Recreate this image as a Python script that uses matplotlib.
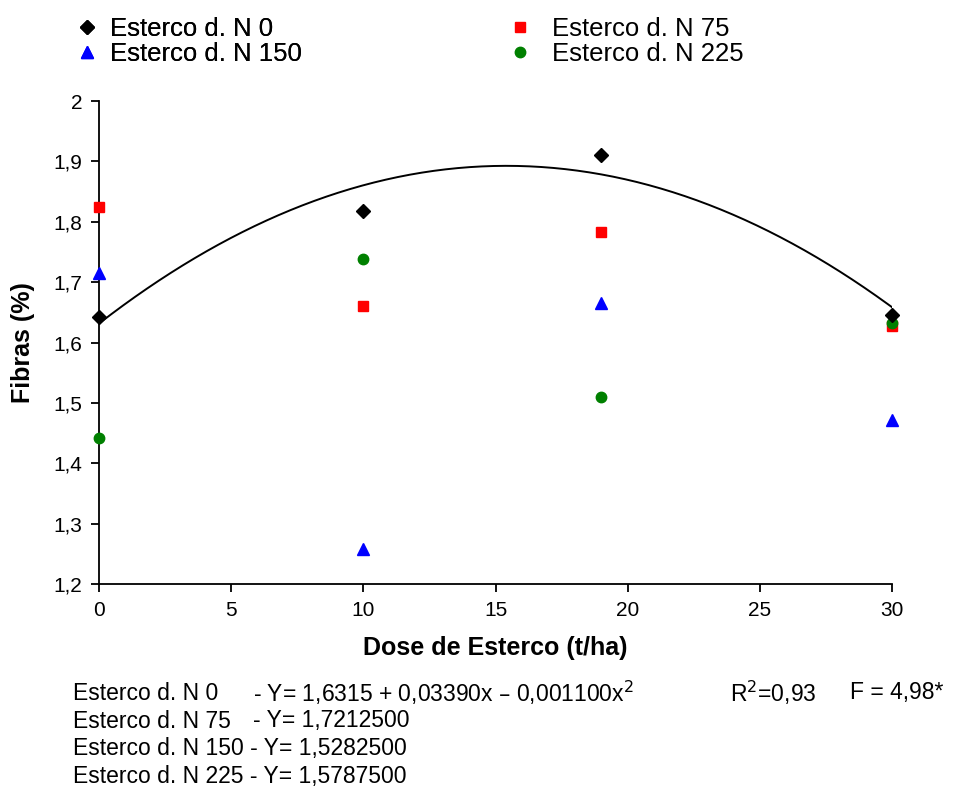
import matplotlib.pyplot as plt
import numpy as np

plt.rcParams['font.family'] = ['Liberation Sans', 'DejaVu Sans']

# doses de esterco (t/ha)
doses = [0, 10, 19, 30]

# fibras (%) para cada dose de N
n0 = [1.643, 1.818, 1.910, 1.645]
n75 = [1.824, 1.660, 1.783, 1.627]
n150 = [1.716, 1.258, 1.665, 1.471]
n225 = [1.442, 1.738, 1.510, 1.633]

# ajuste quadratico do N 0
b0, b1, b2 = 1.6315, 0.03390, -0.001100

yticks = [1.2, 1.3, 1.4, 1.5, 1.6, 1.7, 1.8, 1.9, 2.0]
ytick_labels = ['1,2', '1,3', '1,4', '1,5', '1,6', '1,7', '1,8', '1,9', '2']
xticks = [0, 5, 10, 15, 20, 25, 30]

fig = plt.figure(figsize=(9.56, 7.87), dpi=100)
ax = fig.add_axes([0.1036, 0.2579, 0.8295, 0.6137])

p0, = ax.plot(doses, n0, 'D', color='black', ms=7, clip_on=False, zorder=5)
p75, = ax.plot(doses, n75, 's', color='red', ms=7.5, clip_on=False, zorder=3)
p150, = ax.plot(doses, n150, '^', color='blue', ms=8, clip_on=False, zorder=3)
p225, = ax.plot(doses, n225, 'o', color='green', ms=7.5, clip_on=False, zorder=4)

xc = np.linspace(0, 30, 200)
ax.plot(xc, b0 + b1 * xc + b2 * xc ** 2, color='black', lw=1.4, zorder=2)

ax.set_xlim(0, 30)
ax.set_ylim(1.2, 2.0)
ax.set_xticks(xticks)
ax.set_yticks(yticks)
ax.set_yticklabels(ytick_labels)
ax.tick_params(labelsize=15, length=6, width=1.3, direction='out', pad=6)

for s in ['top', 'right']:
    ax.spines[s].set_visible(False)
for s in ['left', 'bottom']:
    ax.spines[s].set_linewidth(1.3)

ax.set_xlabel('Dose de Esterco (t/ha)', fontsize=18, fontweight='bold', labelpad=12)
ax.set_ylabel('Fibras (%)', fontsize=18, fontweight='bold', labelpad=13)

# legenda em duas colunas
leg1 = fig.legend([p0, p150], ['Esterco d. N 0', 'Esterco d. N 150'],
                  loc='upper left', bbox_to_anchor=(74 / 956, 1 - 17 / 787),
                  frameon=False, fontsize=18.5, handlelength=1.0, handletextpad=0.4,
                  labelspacing=0.05, borderpad=0, borderaxespad=0)
leg2 = fig.legend([p75, p225], ['Esterco d. N 75', 'Esterco d. N 225'],
                  loc='upper left', bbox_to_anchor=(508 / 956, 1 - 17 / 787),
                  frameon=False, fontsize=18.5, handlelength=0.9, handletextpad=0.8,
                  labelspacing=0.05, borderpad=0, borderaxespad=0)
fig.add_artist(leg1)

# equacoes
fs = 16.5
rows = [693, 721, 749, 776]
fig.text(73 / 956, 1 - rows[0] / 787, 'Esterco d. N 0', fontsize=fs, va='center')
fig.text(253 / 956, 1 - rows[0] / 787,
         '- Y= 1,6315 + 0,03390x \u2013 0,001100x$^{2}$', fontsize=fs, va='center')
fig.text(730 / 956, 1 - rows[0] / 787, 'R$^{2}$=0,93', fontsize=fs, va='center')
fig.text(850 / 956, 1 - rows[0] / 787, 'F = 4,98*', fontsize=fs, va='center')
fig.text(73 / 956, 1 - rows[1] / 787, 'Esterco d. N 75', fontsize=fs, va='center')
fig.text(253 / 956, 1 - rows[1] / 787, '- Y= 1,7212500', fontsize=fs, va='center')
fig.text(73 / 956, 1 - rows[2] / 787, 'Esterco d. N 150 - Y= 1,5282500', fontsize=fs, va='center')
fig.text(73 / 956, 1 - rows[3] / 787, 'Esterco d. N 225 - Y= 1,5787500', fontsize=fs, va='center')

plt.savefig('out.png', dpi=100)
